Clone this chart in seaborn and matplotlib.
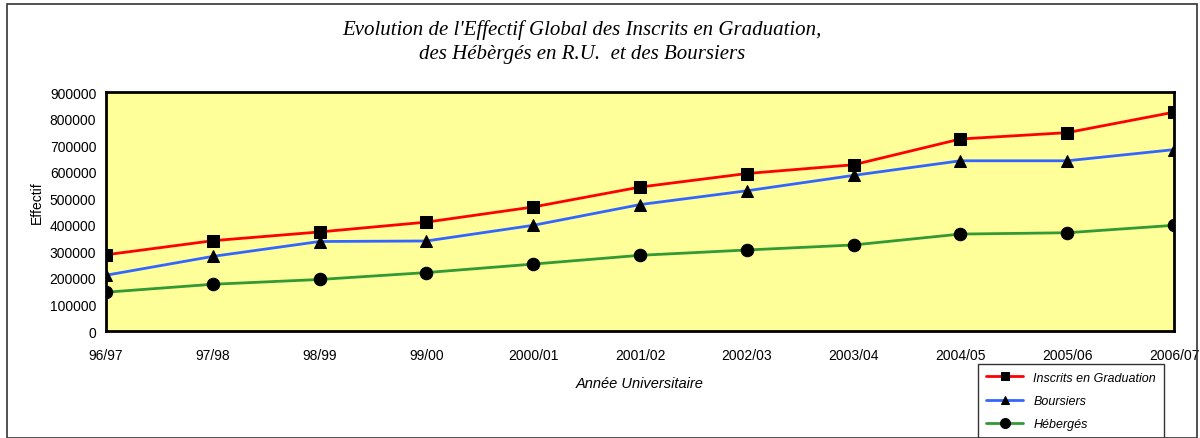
import matplotlib
matplotlib.use("Agg")
import matplotlib.pyplot as plt
from matplotlib.patches import Rectangle
import seaborn as sns
import pandas as pd

annees = ["96/97", "97/98", "98/99", "99/00", "2000/01", "2001/02",
          "2002/03", "2003/04", "2004/05", "2005/06", "2006/07"]
inscrits = [287000, 340000, 373000, 410000, 467000, 542000,
            593000, 626000, 723000, 747000, 824000]
boursiers = [210000, 281000, 337000, 339000, 398000, 476000,
             528000, 586000, 641000, 641000, 683000]
heberges = [146000, 176000, 194000, 220000, 252000, 285000,
            305000, 324000, 365000, 370000, 398000]

series = [
    ("Inscrits en Graduation", inscrits, "#FF0000", "s", 8),
    ("Boursiers", boursiers, "#3366FF", "^", 8),
    ("Hébergés", heberges, "#339933", "o", 9),
]

sns.set_theme(style="white")
plt.rcParams["font.family"] = ["Liberation Sans", "DejaVu Sans"]
plt.rcParams["text.color"] = "black"
plt.rcParams["axes.labelcolor"] = "black"

fig = plt.figure(figsize=(12, 4.39), dpi=100)
ax = fig.add_axes([106 / 1200, 1 - 332 / 439, (1174 - 106) / 1200, (332 - 93) / 439])
ax.set_facecolor("#FFFF99")

for nom, valeurs, couleur, marqueur, taille in series:
    df = pd.DataFrame({"x": range(len(annees)), "y": valeurs})
    sns.lineplot(data=df, x="x", y="y", ax=ax, color=couleur, linewidth=2,
                 marker=marqueur, markersize=taille, markerfacecolor="black",
                 markeredgecolor="black", label=nom)

ax.set_xlim(0, len(annees) - 1)
ax.set_ylim(0, 900000)
ax.set_xticks(range(len(annees)))
ax.set_xticklabels(annees)
ax.set_yticks(range(0, 900001, 100000))
ax.set_yticklabels([str(v) for v in range(0, 900001, 100000)])
ax.tick_params(axis="both", labelsize=10, colors="black", length=4, width=1)
ax.tick_params(axis="x", direction="inout", length=6, pad=9)
ax.tick_params(axis="y", direction="out", pad=3)
for s in ax.spines.values():
    s.set_color("black")
    s.set_linewidth(2)

ax.set_xlabel("Année Universitaire", fontsize=10.5, style="italic", labelpad=10)
ax.set_ylabel("Effectif", fontsize=10, labelpad=2)
ax.yaxis.set_label_coords(-0.058, 0.54)

fig.text(0.485, 1 - 30 / 439, "Evolution de l'Effectif Global des Inscrits en Graduation,",
         ha="center", va="center", fontsize=15, style="italic", family="Liberation Serif")
fig.text(0.485, 1 - 55 / 439, "des Hébèrgés en R.U.  et des Boursiers",
         ha="center", va="center", fontsize=15, style="italic", family="Liberation Serif")

leg = ax.legend(loc="upper left", bbox_to_anchor=(972 / 1200, 1 - 359 / 439),
                bbox_transform=fig.transFigure, frameon=True, fancybox=False,
                prop={"size": 9, "style": "italic"}, handlelength=3,
                borderpad=0.6, labelspacing=0.9, markerscale=0.8)
leg.get_frame().set_edgecolor("black")
leg.get_frame().set_linewidth(1)

fig.patches.append(Rectangle((7 / 1200, 0), 1 - 10 / 1200, 1 - 5 / 439,
                             transform=fig.transFigure, fill=False,
                             edgecolor="#333333", linewidth=1.2))

fig.savefig("out.png", dpi=100)
